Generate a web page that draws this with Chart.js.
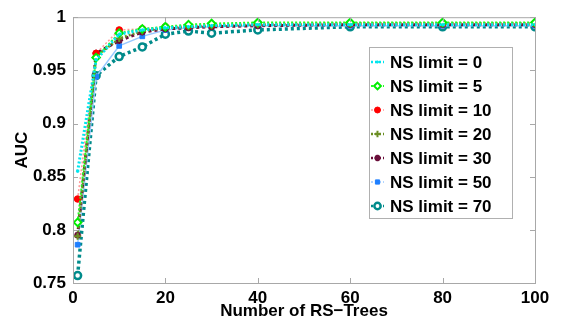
<!DOCTYPE html>
<html>
<head>
<meta charset="utf-8">
<script src="https://cdn.jsdelivr.net/npm/chart.js@4/dist/chart.umd.min.js"></script>
<style>
html,body{margin:0;padding:0;background:#fff;}
#wrap{width:565px;height:328px;}
</style>
</head>
<body>
<div id="wrap"><canvas id="c" width="565" height="328"></canvas></div>
<script>
const numTrees = [1, 5, 10, 15, 20, 25, 30, 40, 60, 80, 100];
const seriesLabels = ['NS limit = 0','NS limit = 5','NS limit = 10','NS limit = 20','NS limit = 30','NS limit = 50','NS limit = 70'];
const ns0  = [0.855, 0.960, 0.984, 0.988, 0.990, 0.991, 0.992, 0.993, 0.993, 0.993, 0.993];
const ns5  = [0.807, 0.962, 0.985, 0.989, 0.991, 0.993, 0.994, 0.995, 0.995, 0.995, 0.995];
const ns10 = [0.829, 0.966, 0.988, 0.989, 0.991, 0.992, 0.993, 0.994, 0.994, 0.994, 0.994];
const ns20 = [0.794, 0.963, 0.980, 0.987, 0.990, 0.991, 0.992, 0.993, 0.994, 0.994, 0.994];
const ns30 = [0.795, 0.966, 0.978, 0.986, 0.989, 0.990, 0.991, 0.992, 0.993, 0.993, 0.993];
const ns50 = [0.786, 0.944, 0.973, 0.982, 0.988, 0.990, 0.991, 0.992, 0.992, 0.992, 0.992];
const ns70 = [0.757, 0.945, 0.963, 0.972, 0.984, 0.987, 0.985, 0.988, 0.991, 0.991, 0.991];
const xTicks = [0, 20, 40, 60, 80, 100];
const yTicks = [0.75, 0.8, 0.85, 0.9, 0.95, 1];

const FONT = "'Liberation Sans', Arial, Helvetica, sans-serif";
const pts = arr => arr.map((v, i) => ({x: numTrees[i], y: v}));

const styles = [
  {line:'#00e5ee', pt:'#00e5ee', fill:'#00e5ee', style:'circle', r:1.2, bw:3, dash:[2,2], pbw:1},
  {line:'#22ff22', pt:'#00ee00', fill:'#ffffff', style:'rectRot', r:3.8, bw:2, dash:[2,2], pbw:2},
  {line:'#ff9a9a', pt:'#ff0000', fill:'#ff0000', style:'circle', r:3.3, bw:1.5, dash:[2,2], pbw:1},
  {line:'#6b8e23', pt:'#6b8e23', fill:'#6b8e23', style:'cross', r:3.5, bw:2.5, dash:[2,2], pbw:2},
  {line:'#6a0f3a', pt:'#6a0f3a', fill:'#6a0f3a', style:'star', r:3.5, bw:3, dash:[3,3], pbw:2},
  {line:'#99c8ff', pt:'#1e7fff', fill:'#1e7fff', style:'rect', r:3.3, bw:1.5, dash:[], pbw:1},
  {line:'#008b8b', pt:'#008b8b', fill:'#ffffff', style:'circle', r:3.5, bw:3.5, dash:[3,3], pbw:2.5}
];
const allData = [ns0, ns5, ns10, ns20, ns30, ns50, ns70];

const datasets = allData.map((d, i) => ({
  label: seriesLabels[i],
  data: pts(d),
  borderColor: styles[i].line,
  borderWidth: styles[i].bw,
  borderDash: styles[i].dash,
  pointStyle: styles[i].style,
  pointRadius: styles[i].r,
  pointBorderColor: styles[i].pt,
  pointBackgroundColor: styles[i].fill,
  pointBorderWidth: styles[i].pbw,
  tension: 0,
  fill: false
}));

const framePlugin = {
  id: 'frame',
  afterDraw(chart) {
    const {ctx, chartArea: a, scales: {x, y}} = chart;
    ctx.save();
    ctx.strokeStyle = '#a8a8a8';
    ctx.lineWidth = 1;
    ctx.strokeRect(a.left + 0.5, a.top + 0.5, a.right - a.left, a.bottom - a.top);
    ctx.beginPath();
    const tl = 5;
    xTicks.forEach(v => {
      const px = Math.round(x.getPixelForValue(v)) + 0.5;
      ctx.moveTo(px, a.bottom); ctx.lineTo(px, a.bottom - tl);
      ctx.moveTo(px, a.top); ctx.lineTo(px, a.top + tl);
    });
    yTicks.forEach(v => {
      const py = Math.round(y.getPixelForValue(v)) + 0.5;
      ctx.moveTo(a.left, py); ctx.lineTo(a.left + tl, py);
      ctx.moveTo(a.right, py); ctx.lineTo(a.right - tl, py);
    });
    ctx.stroke();

    // legend box
    const lx = 369, ly = 47, lw = 143, lh = 171;
    ctx.fillStyle = '#ffffff';
    ctx.fillRect(lx, ly, lw, lh);
    ctx.strokeStyle = '#b0b0b0';
    ctx.strokeRect(lx + 0.5, ly + 0.5, lw, lh);
    ctx.font = 'bold 17px ' + FONT;
    ctx.textBaseline = 'middle';
    ctx.textAlign = 'left';
    chart.data.datasets.forEach((ds, i) => {
      const cy = 62 + i * 24;
      ctx.save();
      ctx.strokeStyle = ds.borderColor;
      ctx.lineWidth = Math.min(ds.borderWidth, 2.5);
      ctx.setLineDash([2, 2]);
      ctx.beginPath();
      ctx.moveTo(371, cy); ctx.lineTo(384, cy);
      ctx.stroke();
      ctx.restore();
      ctx.save();
      ctx.strokeStyle = ds.pointBorderColor;
      ctx.fillStyle = ds.pointBackgroundColor;
      ctx.lineWidth = ds.pointBorderWidth;
      Chart.helpers.drawPoint(ctx, {pointStyle: ds.pointStyle, radius: ds.pointRadius * 0.9, borderWidth: ds.pointBorderWidth}, 377.5, cy);
      ctx.restore();
      ctx.fillStyle = '#000';
      ctx.fillText(ds.label, 390, cy + 1);
    });
    ctx.restore();
  }
};

new Chart(document.getElementById('c'), {
  type: 'line',
  data: {datasets},
  options: {
    responsive: false,
    animation: false,
    devicePixelRatio: 1,
    layout: {padding: {left: 0, right: 30, top: 14, bottom: 0}},
    plugins: {legend: {display: false}, tooltip: {enabled: false}},
    scales: {
      x: {
        type: 'linear', min: 0, max: 100,
        afterBuildTicks: s => { s.ticks = xTicks.map(v => ({value: v})); },
        afterFit: s => { s.height = 45; },
        grid: {display: false, drawTicks: false},
        border: {display: false},
        ticks: {padding: 5, color: '#000', font: {family: FONT, size: 17, weight: 'bold'}, maxRotation: 0},
        title: {display: true, text: 'Number of RS\u2212Trees', color: '#000', font: {family: FONT, size: 17, weight: 'bold'}, padding: {top: 0, bottom: 6}}
      },
      y: {
        type: 'linear', min: 0.75, max: 1,
        afterBuildTicks: s => { s.ticks = yTicks.map(v => ({value: v})); },
        afterFit: s => { s.width = 73; },
        grid: {display: false, drawTicks: false},
        border: {display: false},
        ticks: {padding: 7, color: '#000', font: {family: FONT, size: 17, weight: 'bold'},
          callback: v => String(Number(v.toFixed(2)))},
        title: {display: true, text: 'AUC', color: '#000', font: {family: FONT, size: 17, weight: 'bold'}, padding: {top: 12, bottom: 0}}
      }
    }
  },
  plugins: [framePlugin]
});
</script>
</body>
</html>
